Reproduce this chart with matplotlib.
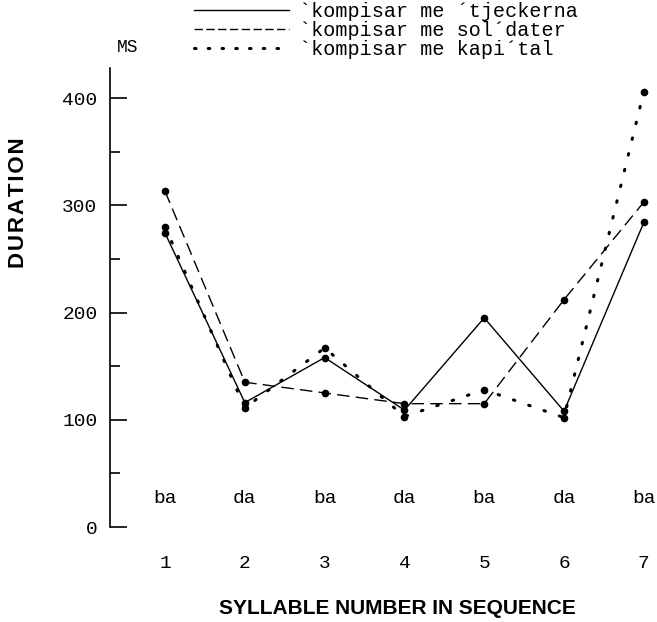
import matplotlib
matplotlib.use("Agg")
import matplotlib.pyplot as plt
from matplotlib.lines import Line2D

syllable_pos = [1, 2, 3, 4, 5, 6, 7]
syllables = ["ba", "da", "ba", "da", "ba", "da", "ba"]
tjeckerna = [274, 116, 158, 109, 195, 108, 284]
soldater = [313, 135, 125, 115, 115, 212, 303]
kapital = [280, 111, 167, 103, 128, 102, 406]
labels = ["`kompisar me ´tjeckerna", "`kompisar me sol´dater", "`kompisar me kapi´tal"]
yticks_major = [0, 100, 200, 300, 400]
yticks_minor = [50, 150, 250, 350]

mono = "Liberation Mono"
W, H = 657, 622
X0, X1 = 110, 655
Y0, Y1 = 527, 68
fig = plt.figure(figsize=(W / 100, H / 100), dpi=100)
ax = fig.add_axes([X0 / W, 1 - Y0 / H, (X1 - X0) / W, (Y0 - Y1) / H])
ax.set_xlim(0.31, 7.14)
ax.set_ylim(0, 428)

ax.plot(syllable_pos, tjeckerna, color="black", lw=1.0, ls="-",
        marker="o", ms=4.5, clip_on=False)
ax.plot(syllable_pos, soldater, color="black", lw=1.0, ls=(0, (9, 4.5)),
        marker="o", ms=4.5, clip_on=False)
ax.plot(syllable_pos, kapital, color="black", lw=2.2, ls=(0, (0.5, 4.8)),
        dash_capstyle="round", marker="o", ms=4.5, clip_on=False)

for s, p in zip(syllables, syllable_pos):
    ax.text(p, 27, s, ha="center", va="center", fontsize=14, family=mono)

for sp in ["top", "right", "bottom"]:
    ax.spines[sp].set_visible(False)
ax.spines["left"].set_linewidth(1.2)

ax.set_yticks(yticks_major)
ax.set_yticklabels([str(v) for v in yticks_major], family=mono, fontsize=14)
ax.set_yticks(yticks_minor, minor=True)
ax.tick_params(axis="y", which="major", direction="in", length=12, width=1.2, pad=9)
ax.tick_params(axis="y", which="minor", direction="in", length=7.5, width=1.2)

ax.set_xticks(syllable_pos)
ax.set_xticklabels([str(v) for v in syllable_pos], family=mono, fontsize=14)
ax.tick_params(axis="x", length=0, pad=20)

ax.set_xlabel("SYLLABLE NUMBER IN SEQUENCE", fontsize=15, fontweight="bold",
              family="Liberation Sans")
ax.xaxis.set_label_coords((397 - X0) / (X1 - X0), -(608 - Y0) / (Y0 - Y1))
ax.xaxis.label.set_va("center")
ax.set_ylabel("D\u200aU\u200aR\u200aA\u200aT\u200aI\u200aO\u200aN", fontsize=16,
              fontweight="bold", family=["Liberation Sans", "DejaVu Sans"])
ax.yaxis.set_label_coords(-(X0 - 19) / (X1 - X0), (Y0 - 203) / (Y0 - Y1))
ax.yaxis.label.set_va("center")

fig.text(128 / W, 1 - 48 / H, "MS", ha="center", va="center", fontsize=13, family=mono)

handles = [Line2D([], [], color="black", lw=1.0, ls="-"),
           Line2D([], [], color="black", lw=1.0, ls=(0, (6, 2.5))),
           Line2D([], [], color="black", lw=2.2, ls=(0, (0.5, 4.0)), dash_capstyle="round")]
leg = fig.legend(handles, labels, loc="upper left", bbox_to_anchor=(194 / W, 1 - 2 / H),
                 frameon=False, prop={"family": mono, "size": 14.5}, borderpad=0,
                 borderaxespad=0, handlelength=4.7, handletextpad=0.5, labelspacing=0.0)

fig.savefig("out.png", dpi=100)
